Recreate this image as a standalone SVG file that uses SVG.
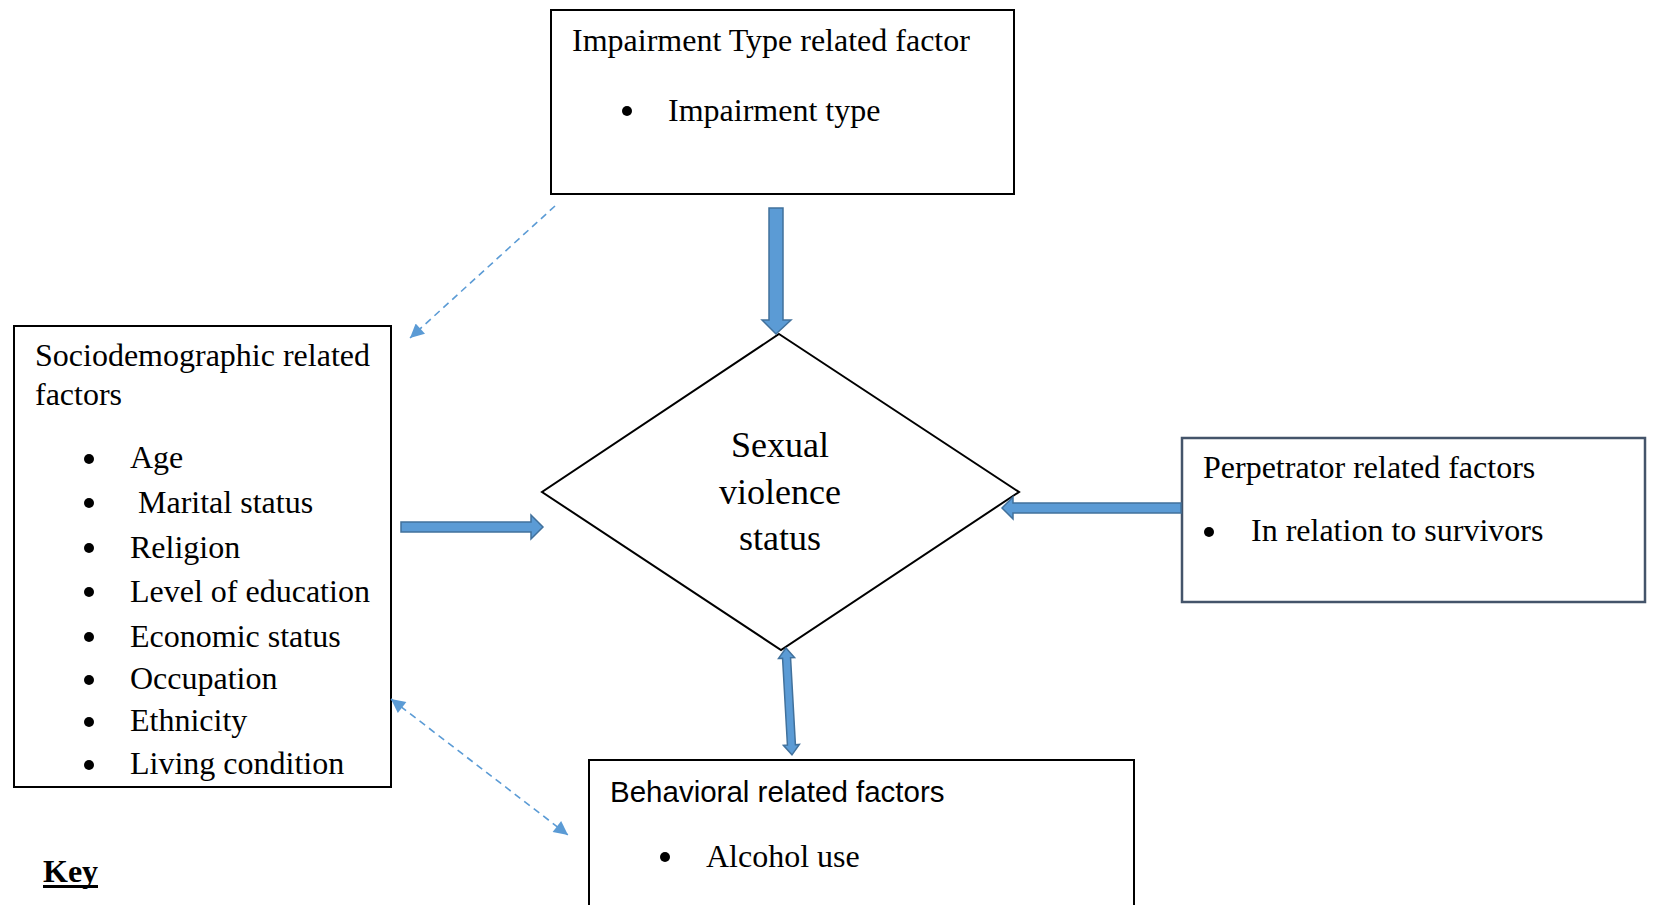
<svg xmlns="http://www.w3.org/2000/svg" width="1653" height="905" viewBox="0 0 1653 905">
<style>
.t{font-family:"Liberation Serif","Times New Roman",serif;font-size:32px;fill:#000}
.s{font-family:"Liberation Sans",Arial,sans-serif;font-size:29.5px;fill:#000}
.c{font-family:"Liberation Serif","Times New Roman",serif;font-size:36px;fill:#000;text-anchor:middle}
.box{fill:#fff;stroke:#000;stroke-width:2}
.blk{fill:#5b9bd5;stroke:#41719c;stroke-width:1.5;stroke-linejoin:miter}
.dash{fill:none;stroke:#5b9bd5;stroke-width:1.6;stroke-dasharray:7 5}
</style>
<defs>
<marker id="ah" viewBox="0 0 10 10" refX="10" refY="5" markerWidth="16" markerHeight="14" markerUnits="userSpaceOnUse" orient="auto-start-reverse">
<path d="M0,0 L10,5 L0,10 Z" fill="#5b9bd5"/>
</marker>
</defs>
<rect width="1653" height="905" fill="#fff"/>

<g id="impairment">
<rect class="box" x="551" y="10" width="463" height="184"/>
<text class="t" x="572" y="51">Impairment Type related factor</text>
<circle cx="627" cy="111" r="5"/>
<text class="t" x="668" y="121">Impairment type</text>
</g>

<g id="sociodemographic">
<rect class="box" x="14" y="326" width="377" height="461"/>
<text class="t" x="35" y="366">Sociodemographic related</text>
<text class="t" x="35" y="405">factors</text>
<circle cx="89" cy="459" r="5"/><text class="t" x="130" y="468">Age</text>
<circle cx="89" cy="503" r="5"/><text class="t" x="138" y="513">Marital status</text>
<circle cx="89" cy="548" r="5"/><text class="t" x="130" y="558">Religion</text>
<circle cx="89" cy="592" r="5"/><text class="t" x="130" y="602">Level of education</text>
<circle cx="89" cy="637" r="5"/><text class="t" x="130" y="647">Economic status</text>
<circle cx="89" cy="680" r="5"/><text class="t" x="130" y="689">Occupation</text>
<circle cx="89" cy="722" r="5"/><text class="t" x="130" y="731">Ethnicity</text>
<circle cx="89" cy="765" r="5"/><text class="t" x="130" y="774">Living condition</text>
</g>

<g id="sexual-violence">
<polygon points="779,334 1019,492 781,650 542,492" fill="#fff" stroke="#000" stroke-width="2"/>
<text class="c" x="780" y="457">Sexual</text>
<text class="c" x="780" y="504">violence</text>
<text class="c" x="780" y="550">status</text>
</g>

<g id="perpetrator">
<rect x="1182" y="438" width="463" height="164" fill="#fff" stroke="#44546a" stroke-width="2.5"/>
<text class="t" x="1203" y="478">Perpetrator related factors</text>
<circle cx="1209" cy="532" r="5"/>
<text class="t" x="1251" y="541">In relation to survivors</text>
</g>

<g id="behavioral">
<rect class="box" x="589" y="760" width="545" height="160"/>
<text class="s" x="610" y="802">Behavioral related factors</text>
<circle cx="665" cy="857" r="5"/>
<text class="t" x="706" y="867">Alcohol use</text>
</g>

<g id="key">
<text class="t" x="43" y="882" font-weight="bold">Key</text>
<rect x="43" y="885" width="55" height="3" fill="#000"/>
</g>

<g id="connectors">
<polygon class="blk" points="769,208 783,208 783,320 791,320 776,334 762,320 769,320"/>
<polygon class="blk" points="401,522 531,522 531,515 543,527 531,539 531,532 401,532"/>
<polygon class="blk" points="1181,503 1013,503 1013,497 1002,508 1013,519 1013,513 1181,513"/>
<polygon class="blk" transform="translate(786,648) rotate(-3.2)" points="0,0 8,10 4,10 4,97 8,97 0,107 -8,97 -4,97 -4,10 -8,10"/>
<line class="dash" x1="555" y1="206" x2="410" y2="338" marker-end="url(#ah)"/>
<line class="dash" x1="391" y1="699" x2="568" y2="835" marker-start="url(#ah)" marker-end="url(#ah)"/>
</g>
</svg>
